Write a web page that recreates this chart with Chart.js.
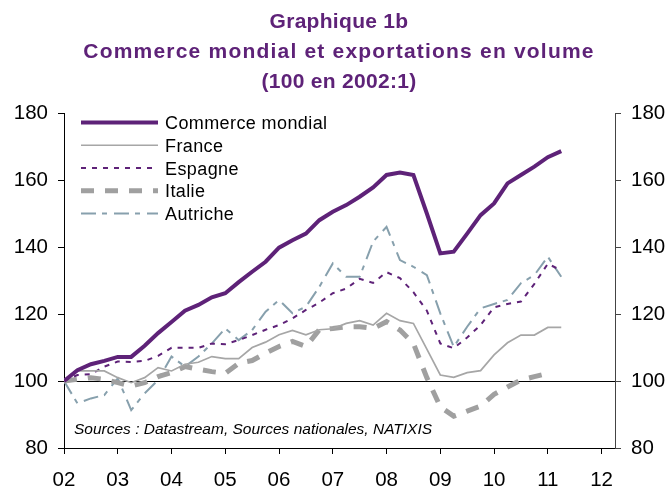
<!DOCTYPE html>
<html>
<head>
<meta charset="utf-8">
<script src="https://cdn.jsdelivr.net/npm/chart.js@4.4.1/dist/chart.umd.min.js"></script>
<style>
    html, body { margin: 0; padding: 0; background: #fff; }
</style>
</head>
<body>
<canvas id="commerce-volume" width="669" height="488"></canvas>
<script>
// quarterly series, 2002:1 = 100
const yearLabels = ['02', '03', '04', '05', '06', '07', '08', '09', '10', '11', '12'];
const yTicks = [80, 100, 120, 140, 160, 180];
const seriesNames = ['Commerce mondial', 'France', 'Espagne', 'Italie', 'Autriche'];

const commerce = [100, 103.2, 105, 106, 107.2, 107.2, 110.5, 114.3, 117.6, 121, 122.7, 125, 126.2, 129.5, 132.6, 135.6, 139.8, 142, 144, 148,
    150.5, 152.5, 155, 157.8, 161.5, 162.2, 161.5, 150, 138.1, 138.6, 144, 149.5, 153, 159, 161.5, 164, 166.8, 168.6];
const france = [100, 103, 103, 103, 101, 99.5, 101, 104, 103, 105, 105.6, 107.3, 106.7, 106.7, 110, 111.6, 113.8, 115.1, 113.8, 115.3,
    115.6, 117.2, 118, 116.7, 120.2, 118, 117.2, 109.5, 101.8, 101.1, 102.5, 103.1, 107.8, 111.4, 113.7, 113.7, 116, 116];
const espagne = [100, 101.8, 102, 104.3, 105.8, 105.7, 106, 107.5, 109.9, 109.9, 109.9, 111.2, 111, 112.2, 113.7, 115.3, 116.7, 118.7, 121.2, 123.4,
    126.2, 127.6, 130.5, 129.3, 132.5, 130.7, 126.5, 121, 111.2, 109.8, 113, 116.7, 122, 123, 123.7, 129, 135, 133];
const italie = [100, 100.5, 101, 100.5, 99.5, 98.5, 99.5, 101.3, 102.5, 104.3, 103.5, 102.8, 102.3, 105.3, 106.1, 108.3, 110.3, 111.8, 110.3, 115.3,
    115.7, 116.2, 116.2, 115.7, 117.7, 115.2, 111.2, 101, 92.3, 89.5, 91, 92.5, 96, 98.2, 100.3, 101.3, 102.3];
const autriche = [100, 93.3, 94.8, 95.8, 100.8, 91.3, 96.3, 100.3, 107.3, 104.3, 107.3, 111.2, 115.7, 112.2, 115.2, 120.7, 124.2, 120.2, 122.2, 128.1,
    135.1, 131.1, 131.1, 141.6, 146, 136.1, 134.1, 131.6, 120.2, 110.2, 116.2, 121.7, 123, 124.2, 129.2, 131.6, 137.1, 131.1];

const titleLines = ['Graphique 1b', 'Commerce mondial et exportations en volume', '(100 en 2002:1)'];
const sourceNote = 'Sources : Datastream, Sources nationales, NATIXIS';

const PURPLE = '#5e2278';
const FONT = '"Liberation Sans", Arial, sans-serif';

function toPoints(values) {
    return values.map((v, i) => ({ x: i, y: v }));
}

// title, source note and legend drawn on top of the chart
const decorations = {
    id: 'decorations',
    afterDraw(chart) {
        const c = chart.ctx;
        c.save();
        c.fillStyle = PURPLE;
        c.textAlign = 'center';
        c.textBaseline = 'alphabetic';
        c.font = 'bold 21px ' + FONT;
        const baselines = [28, 58, 87.5];
        titleLines.forEach((t, i) => {
            c.letterSpacing = i === 1 ? '1.2px' : '0.3px';
            c.fillText(t, 339, baselines[i]);
        });

        c.fillStyle = '#000';
        c.textAlign = 'left';
        c.letterSpacing = '0px';
        c.font = 'italic 15.5px ' + FONT;
        c.fillText(sourceNote, 74, 433.5);

        c.font = '18px ' + FONT;
        c.letterSpacing = '0.4px';
        chart.data.datasets.forEach((ds, i) => {
            const y = 122.5 + i * 22.75;
            c.beginPath();
            c.strokeStyle = ds.borderColor;
            c.lineWidth = ds.borderWidth;
            c.setLineDash(ds.borderDash || []);
            c.moveTo(81, y);
            c.lineTo(158, y);
            c.stroke();
            c.fillText(ds.label, 165, y + 6.5);
        });
        c.restore();
    }
};

document.addEventListener("DOMContentLoaded", function () {
    var ctx = document.getElementById('commerce-volume').getContext('2d');

    var chartData = {
        datasets: [{
            label: seriesNames[0],
            data: toPoints(commerce),
            borderColor: PURPLE,
            borderWidth: 4
        }, {
            label: seriesNames[1],
            data: toPoints(france),
            borderColor: '#a6a6a6',
            borderWidth: 1.7
        }, {
            label: seriesNames[2],
            data: toPoints(espagne),
            borderColor: PURPLE,
            borderWidth: 2,
            borderDash: [5, 6]
        }, {
            label: seriesNames[3],
            data: toPoints(italie),
            borderColor: '#a0a0a0',
            borderWidth: 5,
            borderDash: [13, 11]
        }, {
            label: seriesNames[4],
            data: toPoints(autriche),
            borderColor: '#87a0ad',
            borderWidth: 2,
            borderDash: [15, 6, 5, 7]
        }]
    };

    var tickFont = { family: FONT, size: 20.5 };

    var options = {
        responsive: false,
        animation: false,
        layout: { padding: { top: 113, left: 0, right: 0, bottom: 0 } },
        elements: {
            point: { radius: 0 },
            line: { tension: 0, borderCapStyle: 'butt' }
        },
        plugins: {
            legend: { display: false },
            title: { display: false },
            tooltip: { enabled: false }
        },
        scales: {
            x: {
                type: 'linear',
                min: 0,
                max: 41,
                afterBuildTicks: s => { s.ticks = yearLabels.map((l, i) => ({ value: i * 4 })); },
                afterFit: s => { s.height = 40; },
                grid: { drawOnChartArea: false, tickLength: 6, tickColor: '#000' },
                border: { color: '#000', width: 1 },
                ticks: {
                    callback: v => yearLabels[v / 4],
                    font: tickFont,
                    color: '#000',
                    padding: 14,
                    maxRotation: 0,
                    autoSkip: false
                }
            },
            y: {
                position: 'left',
                min: 80,
                max: 180,
                afterBuildTicks: s => { s.ticks = yTicks.map(v => ({ value: v })); },
                afterFit: s => { s.width = 64; },
                grid: {
                    color: c => (c.tick && c.tick.value === 100) ? '#000' : 'rgba(0,0,0,0)',
                    tickColor: '#000',
                    tickLength: 6
                },
                border: { color: '#000', width: 1 },
                ticks: { font: tickFont, color: '#000', padding: 10 }
            },
            y2: {
                position: 'right',
                min: 80,
                max: 180,
                afterBuildTicks: s => { s.ticks = yTicks.map(v => ({ value: v })); },
                afterFit: s => { s.width = 54; },
                grid: { drawOnChartArea: false, tickColor: '#444', tickLength: 6 },
                border: { color: '#444', width: 1 },
                ticks: { font: tickFont, color: '#000', padding: 10 }
            }
        }
    };

    new Chart(ctx, {
        type: 'line',
        data: chartData,
        options: options,
        plugins: [decorations]
    });
});
</script>
</body>
</html>
